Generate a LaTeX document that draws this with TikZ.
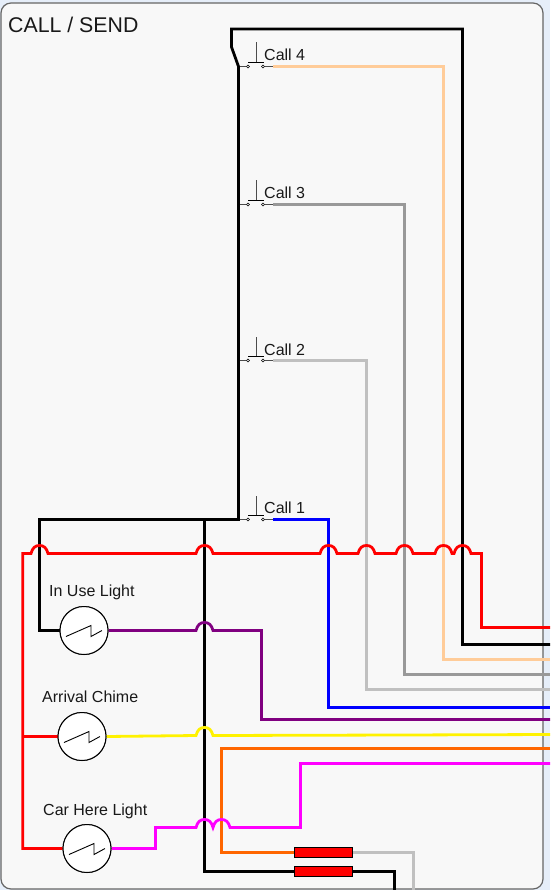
\documentclass[tikz,border=0pt]{standalone}
\usepackage{fontspec}
\setmainfont{Liberation Sans}
\definecolor{bgblue}{HTML}{E6EEF9}
\definecolor{panel}{HTML}{F8F8F8}
\definecolor{peach}{HTML}{FFCC99}
\definecolor{midgray}{HTML}{999999}
\definecolor{lightgray2}{HTML}{C0C0C0}
\definecolor{violet2}{HTML}{800080}
\definecolor{orange2}{HTML}{FF6600}
\definecolor{magenta2}{HTML}{FF00FF}
\newcommand\hop[2]{-- (#1-8.5,#2) .. controls (#1-7,#2-6) and (#1-4,#2-8) .. (#1,#2-8) .. controls (#1+4,#2-8) and (#1+7,#2-6) .. (#1+8.5,#2)}
\tikzset{
  wire/.style={line width=2.8pt,line join=miter},
  thin wire/.style={line width=0.9pt,draw=black!70},
  lamp/.style={circle,draw=black,fill=white,line width=1pt,minimum size=48pt,inner sep=0pt},
  resist/.style={rectangle,draw=black,fill=red,line width=0.8pt,minimum width=58pt,minimum height=10pt,inner sep=0pt},
  term/.style={circle,draw=black,fill=white,line width=0.6pt,minimum size=3pt,inner sep=0pt},
  lbl/.style={font=\fontsize{16}{18}\selectfont,text=black!90,inner sep=0pt,anchor=west},
}
\newcommand\callswitch[4]{%
  \coordinate (#1l) at (238.5,#2);
  \coordinate (#1r) at (273,#2);
  \node[term] (#1a) at (248,#2) {};
  \node[term] (#1b) at (263,#2) {};
  \draw[thin wire] (#1l) -- (#1a);
  \draw[thin wire] (#1b) -- (#1r);
  \draw[line width=0.9pt,black] (248,#2-4.5) -- (264,#2-4.5);
  \draw[line width=0.9pt,black!70] (256,#2-4.5) -- (256,#2-24);
  \node[lbl] (#1t) at (264,#2-#4) {#3};
}
\begin{document}
\begin{tikzpicture}[x=1pt,y=-1pt]
\useasboundingbox (0,0) rectangle (550,890);
\fill[bgblue] (0,0) rectangle (550,890);
\draw[draw=black!60,fill=panel,line width=1.2pt,rounded corners=10pt] (1,3) rectangle (543,889);
\node[inner sep=0pt,anchor=west,font=\fontsize{21.3}{23}\selectfont,text=black!90] (title) at (8,25) {CALL / SEND};

\callswitch{cf}{66.5}{Call 4}{11.5}
\callswitch{ct}{204.5}{Call 3}{11.5}
\callswitch{cs}{360.5}{Call 2}{10.6}
\callswitch{co}{519.5}{Call 1}{11.5}

\coordinate (Epeach) at (550,659.5);
\coordinate (Egray) at (550,674.5);
\coordinate (Elgray) at (550,689.5);
\coordinate (Eblue) at (550,707.5);
\coordinate (Epurple) at (550,719.5);
\coordinate (Eyellow) at (550,734.5);
\coordinate (Eorange) at (550,748.5);
\coordinate (Emag) at (550,763.5);
\coordinate (Ered) at (550,627.5);
\coordinate (Eblack) at (550,644.5);
\coordinate (Bgray) at (413.5,890);
\coordinate (Bblack) at (394.5,890);

\node[lamp] (use) at (84,630.5) {};
\node[lamp] (chime) at (82,736.5) {};
\node[lamp] (here) at (87,848.5) {};
\node[resist] (r1) at (323,852.5) {};
\node[resist] (r2) at (323,871.5) {};

% coloured wires
\draw[wire,peach] (cfr) -- (443.5,66.5) -- (443.5,659.5) -- (Epeach);
\draw[wire,midgray] (ctr) -- (404.5,204.5) -- (404.5,674.5) -- (Egray);
\draw[wire,lightgray2] (csr) -- (366.5,360.5) -- (366.5,689.5) -- (Elgray);
\draw[wire,blue] (cor) -- (328.5,519.5) -- (328.5,707.5) -- (Eblue);
\draw[wire,black] (cfl) -- (231.5,47) -- (231.5,29) -- (462.5,29) -- (462.5,644.5) -- (Eblack);
\draw[wire,black] (cfl) -- (238.5,519.5) -- (39.5,519.5) -- (39.5,630.5) -- (use.west);
\draw[wire,black] (204.5,519.5) -- (204.5,871.5) -- (r2.west);
\draw[wire,black] (r2.east) -- (394.5,871.5) -- (Bblack);
\draw[wire,lightgray2] (r1.east) -- (413.5,852.5) -- (Bgray);
\draw[wire,orange2] (Eorange) -- (221.5,748.5) -- (221.5,852.5) -- (r1.west);
\draw[wire,violet2] (use.east) \hop{204.5}{630.5} -- (261.5,630.5) -- (261.5,719.5) -- (Epurple);
\draw[wire,yellow] (chime.east) \hop{204.5}{735.5} -- (400,735) -- (Eyellow);
\draw[wire,magenta2] (here.east) -- (155.5,848.5) -- (155.5,827.5) \hop{204.5}{827.5} \hop{221.5}{827.5} -- (300.5,827.5) -- (300.5,763.5) -- (Emag);
\draw[wire,red] (chime.west) -- (22.7,736.5);
\draw[wire,red] (here.west) -- (22.7,848.5) -- (22.7,553.5) \hop{39.5}{553.5} \hop{204.5}{553.5} \hop{328.5}{553.5} \hop{366.5}{553.5} \hop{404.5}{553.5} \hop{443.5}{553.5} \hop{462.5}{553.5} -- (481.5,553.5) -- (481.5,627.5) -- (Ered);

% redraw so nodes sit over wires
\foreach \n/\x/\y in {use/84/630.5,chime/82/736.5,here/87/848.5}{
  \node[lamp] (\n) at (\x,\y) {};
  \draw[line width=0.9pt,black] (\x-18,\y+6) -- (\x+7,\y-5) -- (\x+7,\y+6) -- (\x+18,\y);
}
\node[resist] (r1) at (323,852.5) {};
\node[resist] (r2) at (323,871.5) {};

\node[lbl] (tuse) at (49,592) {In Use Light};
\node[lbl] (tchime) at (42,697) {Arrival Chime};
\node[lbl] (there) at (43,811.3) {Car Here Light};
\end{tikzpicture}
\end{document}
